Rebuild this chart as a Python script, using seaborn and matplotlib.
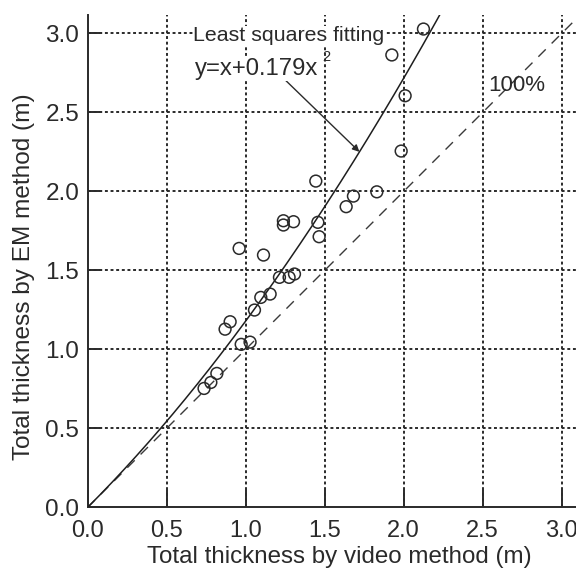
import numpy as np
import pandas as pd
import matplotlib
matplotlib.use("Agg")
import matplotlib.pyplot as plt
import seaborn as sns

# Paired thickness measurements (m)
video_thickness = [0.737, 0.780, 0.818, 0.870, 0.902, 0.972, 1.028, 1.056, 1.096,
                   1.155, 1.214, 1.275, 1.309, 0.959, 1.113, 1.465, 1.457, 1.239,
                   1.239, 1.303, 1.444, 1.636, 1.682, 1.830, 1.984, 2.009, 1.925,
                   2.125]
em_thickness = [0.753, 0.791, 0.848, 1.128, 1.175, 1.032, 1.046, 1.249, 1.329,
                1.350, 1.456, 1.456, 1.477, 1.639, 1.597, 1.713, 1.804, 1.814,
                1.787, 1.808, 2.065, 1.903, 1.970, 1.997, 2.255, 2.605, 2.863,
                3.027]

# Least squares fit: y = x + c * x^2
fit_coef = 0.179
tick_values = [0.0, 0.5, 1.0, 1.5, 2.0, 2.5, 3.0]
tick_labels = ["0.0", "0.5", "1.0", "1.5", "2.0", "2.5", "3.0"]

sns.set_theme(style="ticks")
plt.rcParams["font.family"] = ["Liberation Sans", "DejaVu Sans"]

ink = "#2a2a2a"
fig = plt.figure(figsize=(5.76, 5.76), dpi=100)
ax = fig.add_axes([0.152, 0.119, 0.848, 0.855])

x_max, y_max = 3.09, 3.116
ax.set_xlim(0, x_max)
ax.set_ylim(0, y_max)

# 1:1 reference line and fitted curve
x_line = np.linspace(0, x_max, 200)
ref_df = pd.DataFrame({"x": x_line, "y": x_line})
sns.lineplot(data=ref_df, x="x", y="y", ax=ax, color="#3a3a3a", lw=1.0,
             linestyle=(0, (7.5, 6)), zorder=2)

x_fit = np.linspace(0, 2.3, 300)
fit_df = pd.DataFrame({"x": x_fit, "y": x_fit + fit_coef * x_fit ** 2})
sns.lineplot(data=fit_df, x="x", y="y", ax=ax, color="#1e1e1e", lw=1.1, zorder=3)

pts = pd.DataFrame({"video": video_thickness, "em": em_thickness})
sns.scatterplot(data=pts, x="video", y="em", ax=ax, marker="o", s=72,
                facecolors="none", edgecolor=ink, linewidth=1.1, zorder=4)

# Dotted grid
for v in tick_values[1:]:
    ax.axhline(v, color=ink, lw=1.4, linestyle=(0, (1.5, 1.4)), zorder=1)
    ax.axvline(v, color=ink, lw=1.4, linestyle=(0, (1.5, 1.4)), zorder=1)

ax.set_xticks(tick_values)
ax.set_xticklabels(tick_labels)
ax.set_yticks(tick_values)
ax.set_yticklabels(tick_labels)

for side in ("top", "right"):
    ax.spines[side].set_visible(False)
for side in ("left", "bottom"):
    ax.spines[side].set_color(ink)
    ax.spines[side].set_linewidth(1.4)

ax.tick_params(axis="x", direction="in", length=12, width=1.4, color=ink,
               labelsize=17, labelcolor=ink, pad=9)
ax.tick_params(axis="y", direction="in", length=8.6, width=1.4, color=ink,
               labelsize=17.5, labelcolor=ink, pad=6)

ax.set_xlabel("Total thickness by video method (m)", fontsize=17.4, color=ink)
ax.set_ylabel("Total thickness by EM method (m)", fontsize=17.6, color=ink)
ax.xaxis.set_label_coords(0.515, -0.079)
ax.yaxis.set_label_coords(-0.1075, 0.468)

box = dict(facecolor="white", edgecolor="none", pad=0.5)
ax.text(0.668, 2.985, "Least squares fitting", fontsize=15.4, color=ink,
        ha="left", va="center", bbox=box, zorder=5)
ax.annotate("y=x+0.179x", xy=(1.72, 2.25),
            xytext=(0.68, 2.775), fontsize=17.2, color=ink, ha="left",
            va="center", bbox=box, zorder=5,
            arrowprops=dict(arrowstyle="-|>", color=ink, lw=1.0,
                            mutation_scale=10, shrinkA=0, shrinkB=0,
                            relpos=(0.73, 0.0)))
ax.text(1.484, 2.85, "2", fontsize=10.5, color=ink, ha="left", va="center",
        zorder=5)
ax.text(2.535, 2.667, "100%", fontsize=16, color=ink, ha="left",
        va="center", zorder=5)

fig.savefig("out.png", dpi=100)
